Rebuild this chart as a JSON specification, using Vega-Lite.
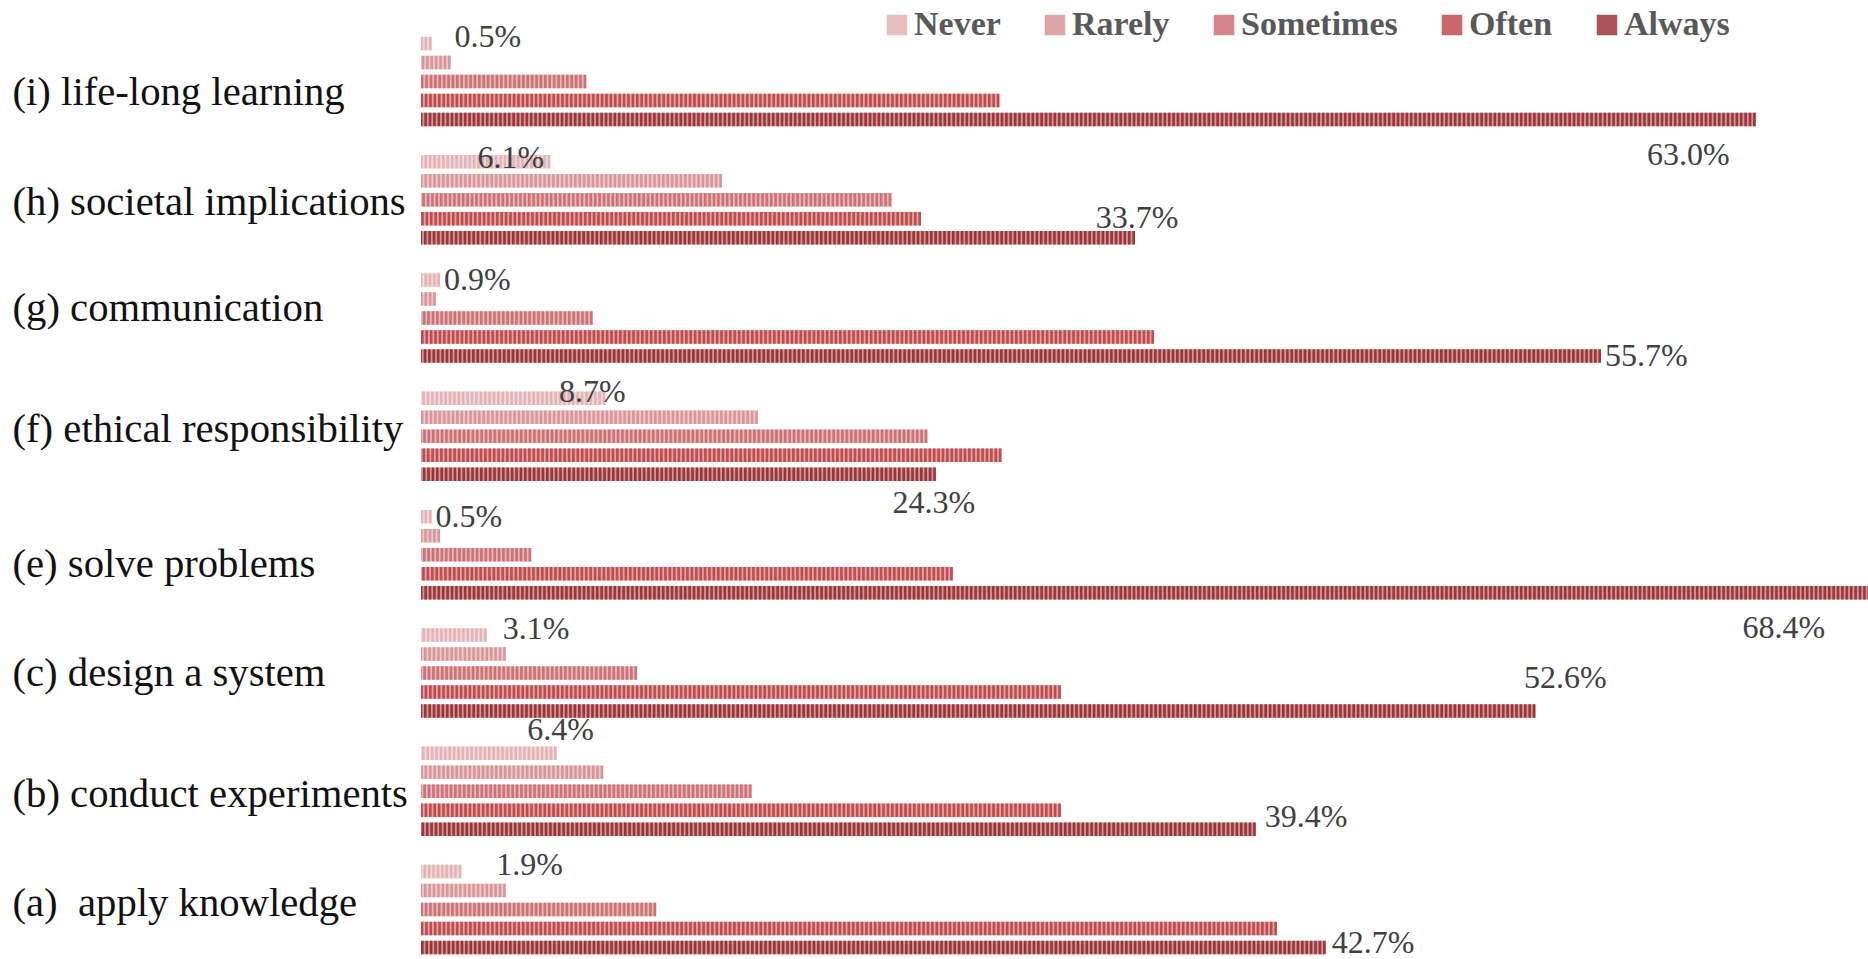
{
  "$schema": "https://vega.github.io/schema/vega-lite/v6.json",
  "autosize": {"type": "none"},
  "padding": {"left": 421, "top": 34, "right": 0, "bottom": 2},
  "width": 1447,
  "height": 923,
  "background": "white",
  "config": {"view": {"stroke": null}, "font": "Liberation Serif"},
  "data": {"values": [
    {"cat": "(i) life-long learning", "k": "i", "s": "Never", "v": 0.005},
    {"cat": "(i) life-long learning", "k": "i", "s": "Rarely", "v": 0.014},
    {"cat": "(i) life-long learning", "k": "i", "s": "Sometimes", "v": 0.078},
    {"cat": "(i) life-long learning", "k": "i", "s": "Often", "v": 0.273},
    {"cat": "(i) life-long learning", "k": "i", "s": "Always", "v": 0.630},
    {"cat": "(h) societal implications", "k": "h", "s": "Never", "v": 0.061},
    {"cat": "(h) societal implications", "k": "h", "s": "Rarely", "v": 0.142},
    {"cat": "(h) societal implications", "k": "h", "s": "Sometimes", "v": 0.222},
    {"cat": "(h) societal implications", "k": "h", "s": "Often", "v": 0.236},
    {"cat": "(h) societal implications", "k": "h", "s": "Always", "v": 0.337},
    {"cat": "(g) communication", "k": "g", "s": "Never", "v": 0.009},
    {"cat": "(g) communication", "k": "g", "s": "Rarely", "v": 0.007},
    {"cat": "(g) communication", "k": "g", "s": "Sometimes", "v": 0.081},
    {"cat": "(g) communication", "k": "g", "s": "Often", "v": 0.346},
    {"cat": "(g) communication", "k": "g", "s": "Always", "v": 0.557},
    {"cat": "(f) ethical responsibility", "k": "f", "s": "Never", "v": 0.087},
    {"cat": "(f) ethical responsibility", "k": "f", "s": "Rarely", "v": 0.159},
    {"cat": "(f) ethical responsibility", "k": "f", "s": "Sometimes", "v": 0.239},
    {"cat": "(f) ethical responsibility", "k": "f", "s": "Often", "v": 0.274},
    {"cat": "(f) ethical responsibility", "k": "f", "s": "Always", "v": 0.243},
    {"cat": "(e) solve problems", "k": "e", "s": "Never", "v": 0.005},
    {"cat": "(e) solve problems", "k": "e", "s": "Rarely", "v": 0.009},
    {"cat": "(e) solve problems", "k": "e", "s": "Sometimes", "v": 0.052},
    {"cat": "(e) solve problems", "k": "e", "s": "Often", "v": 0.251},
    {"cat": "(e) solve problems", "k": "e", "s": "Always", "v": 0.684},
    {"cat": "(c) design a system", "k": "c", "s": "Never", "v": 0.031},
    {"cat": "(c) design a system", "k": "c", "s": "Rarely", "v": 0.040},
    {"cat": "(c) design a system", "k": "c", "s": "Sometimes", "v": 0.102},
    {"cat": "(c) design a system", "k": "c", "s": "Often", "v": 0.302},
    {"cat": "(c) design a system", "k": "c", "s": "Always", "v": 0.526},
    {"cat": "(b) conduct experiments", "k": "b", "s": "Never", "v": 0.064},
    {"cat": "(b) conduct experiments", "k": "b", "s": "Rarely", "v": 0.086},
    {"cat": "(b) conduct experiments", "k": "b", "s": "Sometimes", "v": 0.156},
    {"cat": "(b) conduct experiments", "k": "b", "s": "Often", "v": 0.302},
    {"cat": "(b) conduct experiments", "k": "b", "s": "Always", "v": 0.394},
    {"cat": "(a)\u00a0 apply knowledge", "k": "a", "s": "Never", "v": 0.019},
    {"cat": "(a)\u00a0 apply knowledge", "k": "a", "s": "Rarely", "v": 0.040},
    {"cat": "(a)\u00a0 apply knowledge", "k": "a", "s": "Sometimes", "v": 0.111},
    {"cat": "(a)\u00a0 apply knowledge", "k": "a", "s": "Often", "v": 0.404},
    {"cat": "(a)\u00a0 apply knowledge", "k": "a", "s": "Always", "v": 0.427}
  ]},
  "encoding": {
    "y": {
      "field": "cat", "type": "nominal",
      "sort": ["(i) life-long learning", "(h) societal implications", "(g) communication", "(f) ethical responsibility", "(e) solve problems", "(c) design a system", "(b) conduct experiments", "(a)\u00a0 apply knowledge"],
      "scale": {"paddingInner": 0.197, "paddingOuter": 0},
      "axis": {"title": null, "domain": false, "ticks": false, "tickSize": 0, "labelAlign": "left", "labelPadding": 409, "labelFont": "Liberation Serif", "labelFontSize": 40.7, "labelColor": "#111111", "labelLimit": 0,
        "labelOffset": {"condition": [
          {"test": "datum.value == '(i) life-long learning'", "value": 12},
          {"test": "datum.value == '(h) societal implications'", "value": 3},
          {"test": "datum.value == '(g) communication'", "value": -9},
          {"test": "datum.value == '(f) ethical responsibility'", "value": -6},
          {"test": "datum.value == '(e) solve problems'", "value": 10},
          {"test": "datum.value == '(b) conduct experiments'", "value": 4},
          {"test": "datum.value == '(a)\u00a0 apply knowledge'", "value": -6}
        ], "value": 1}}
    },
    "yOffset": {
      "field": "s", "type": "nominal",
      "sort": ["Never", "Rarely", "Sometimes", "Often", "Always"],
      "scale": {"paddingInner": 0.29, "paddingOuter": 0.145}
    },
    "x": {"field": "v", "type": "quantitative", "scale": {"domain": [0, 0.683], "nice": false, "zero": true}, "axis": null}
  },
  "layer": [
    {
      "mark": {"type": "bar", "opacity": 0.5},
      "encoding": {
        "color": {"field": "s", "type": "nominal",
          "scale": {"domain": ["Never", "Rarely", "Sometimes", "Often", "Always"], "range": ["#e3b3b5", "#d89698", "#cc7174", "#bf4b4e", "#9c3538"]},
          "legend": {"title": null, "orient": "none", "legendX": 459, "legendY": -26, "direction": "horizontal", "symbolType": "square", "symbolSize": 420, "symbolOpacity": 0.85, "symbolStrokeWidth": 0, "labelFont": "Liberation Serif", "labelFontSize": 34, "labelFontWeight": "bold", "labelColor": "#595959", "labelOffset": 0, "columnPadding": 37}
        }
      }
    },
    {
      "mark": {"type": "rule", "strokeWidth": 13.5, "strokeDash": [2.6, 1.8]},
      "encoding": {
        "x2": {"datum": 0},
        "color": {"field": "s", "type": "nominal",
          "scale": {"domain": ["Never", "Rarely", "Sometimes", "Often", "Always"], "range": ["#e3b3b5", "#d89698", "#cc7174", "#bf4b4e", "#9c3538"]},
          "legend": {"title": null, "orient": "none", "legendX": 459, "legendY": -26, "direction": "horizontal", "symbolType": "square", "symbolSize": 420, "symbolOpacity": 0.85, "symbolStrokeWidth": 0, "labelFont": "Liberation Serif", "labelFontSize": 34, "labelFontWeight": "bold", "labelColor": "#595959", "labelOffset": 0, "columnPadding": 37}
        }
      }
    },
    {
      "transform": [{"filter": "(datum.s=='Never' && (datum.k=='g' || datum.k=='e')) || (datum.s=='Always' && datum.k=='g')"}],
      "mark": {"type": "text", "align": "left", "baseline": "middle", "dx": 4, "dy": 0, "fontSize": 32, "color": "#404040"},
      "encoding": {"text": {"field": "v", "type": "quantitative", "format": ".1%"}}
    },
    {
      "transform": [{"filter": "datum.s=='Always' && datum.k=='a'"}],
      "mark": {"type": "text", "align": "left", "baseline": "middle", "dx": 6, "dy": -5, "fontSize": 32, "color": "#404040"},
      "encoding": {"text": {"field": "v", "type": "quantitative", "format": ".1%"}}
    },
    {
      "transform": [{"filter": "datum.s=='Always' && datum.k=='b'"}],
      "mark": {"type": "text", "align": "left", "baseline": "middle", "dx": 9, "dy": -12, "fontSize": 32, "color": "#404040"},
      "encoding": {"text": {"field": "v", "type": "quantitative", "format": ".1%"}}
    },
    {
      "transform": [{"filter": "datum.s=='Never' && datum.k=='c'"}],
      "mark": {"type": "text", "align": "left", "baseline": "middle", "dx": 16, "dy": -6, "fontSize": 32, "color": "#404040"},
      "encoding": {"text": {"field": "v", "type": "quantitative", "format": ".1%"}}
    },
    {
      "transform": [{"filter": "datum.s=='Never' && datum.k=='i'"}],
      "mark": {"type": "text", "align": "left", "baseline": "middle", "dx": 23, "dy": -6, "fontSize": 32, "color": "#404040"},
      "encoding": {"text": {"field": "v", "type": "quantitative", "format": ".1%"}}
    },
    {
      "transform": [{"filter": "datum.s=='Never' && datum.k=='a'"}],
      "mark": {"type": "text", "align": "left", "baseline": "middle", "dx": 35, "dy": -7, "fontSize": 32, "color": "#404040"},
      "encoding": {"text": {"field": "v", "type": "quantitative", "format": ".1%"}}
    },
    {
      "transform": [{"filter": "datum.s=='Never' && datum.k=='h'"}],
      "mark": {"type": "text", "align": "right", "baseline": "middle", "dx": -6, "dy": -4, "fontSize": 32, "color": "#404040"},
      "encoding": {"text": {"field": "v", "type": "quantitative", "format": ".1%"}}
    },
    {
      "transform": [{"filter": "datum.s=='Never' && datum.k=='f'"}],
      "mark": {"type": "text", "align": "center", "baseline": "middle", "dx": -13, "dy": -6, "fontSize": 32, "color": "#404040"},
      "encoding": {"text": {"field": "v", "type": "quantitative", "format": ".1%"}}
    },
    {
      "transform": [{"filter": "datum.s=='Never' && datum.k=='b'"}],
      "mark": {"type": "text", "align": "center", "baseline": "middle", "dx": 4, "dy": -23, "fontSize": 32, "color": "#404040"},
      "encoding": {"text": {"field": "v", "type": "quantitative", "format": ".1%"}}
    },
    {
      "transform": [{"filter": "datum.s=='Always' && datum.k=='h'"}],
      "mark": {"type": "text", "align": "center", "baseline": "middle", "dx": 2, "dy": -20, "fontSize": 32, "color": "#404040"},
      "encoding": {"text": {"field": "v", "type": "quantitative", "format": ".1%"}}
    },
    {
      "transform": [{"filter": "datum.s=='Always' && datum.k=='c'"}],
      "mark": {"type": "text", "align": "center", "baseline": "middle", "dx": 30, "dy": -33, "fontSize": 32, "color": "#404040"},
      "encoding": {"text": {"field": "v", "type": "quantitative", "format": ".1%"}}
    },
    {
      "transform": [{"filter": "datum.s=='Always' && datum.k=='f'"}],
      "mark": {"type": "text", "align": "center", "baseline": "middle", "dx": -2, "dy": 29, "fontSize": 32, "color": "#404040"},
      "encoding": {"text": {"field": "v", "type": "quantitative", "format": ".1%"}}
    },
    {
      "transform": [{"filter": "datum.s=='Always' && datum.k=='i'"}],
      "mark": {"type": "text", "align": "right", "baseline": "middle", "dx": -26, "dy": 36, "fontSize": 32, "color": "#404040"},
      "encoding": {"text": {"field": "v", "type": "quantitative", "format": ".1%"}}
    },
    {
      "transform": [{"filter": "datum.s=='Always' && datum.k=='e'"}],
      "mark": {"type": "text", "align": "right", "baseline": "middle", "dx": -45, "dy": 35, "fontSize": 32, "color": "#404040"},
      "encoding": {"text": {"field": "v", "type": "quantitative", "format": ".1%"}}
    }
  ]
}
